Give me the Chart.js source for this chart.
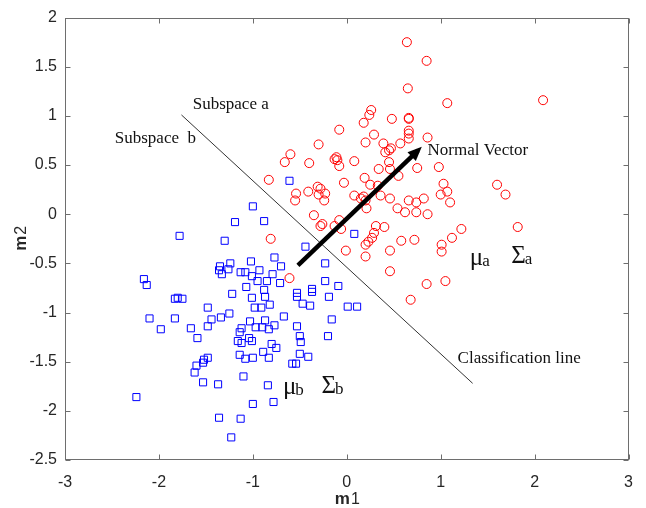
<!DOCTYPE html>
<html>
<head>
<meta charset="utf-8">
<title>LDA projection</title>
<script src="https://cdn.jsdelivr.net/npm/chart.js@4.4.1/dist/chart.umd.min.js"></script>
<style>
  html, body { margin: 0; padding: 0; background: #fff; }
  #wrap { width: 646px; height: 508px; }
</style>
</head>
<body>
<div id="wrap"><canvas id="lda" width="646" height="508"></canvas></div>
<script>
// ---------- data ----------
// class a (red circles)
const classAx = [0.64, 0.85, 0.65, 1.07, 2.09, 0.26, 0.24, 0.18, 0.48, 0.66,
  0.66, -0.08, 0.29, 0.66, 0.66, 0.66, 0.86, -0.30, 0.20, 0.39,
  0.57, 0.47, 0.45, 0.41, -0.60, -0.66, -0.40, -0.13, -0.11, -0.10,
  -0.08, 0.08, 0.45, 0.34, 0.46, 0.75, 0.98, -0.83, 0.55, -0.03,
  0.19, 0.25, 0.33, -0.54, -0.55, -0.41, -0.31, -0.28, -0.30, -0.23,
  -0.24, 0.08, 0.15, 0.18, 0.20, 0.36, 0.46, 0.21, 0.54, 0.62,
  0.66, 0.74, 0.74, 0.82, 0.86, 1.03, 1.00, 1.07, 1.10, 1.60,
  1.69, -0.35, -0.08, -0.06, -0.13, -0.26, -0.28, 0.31, 0.40, 0.29,
  0.27, 0.23, 0.20, 1.22, 1.82, 0.58, 0.72, 1.12, 1.01, 1.01,
  -0.01, 0.20, 0.46, -0.81, 0.46, -0.61, 0.85, 1.05, 0.68];
const classAy = [1.75, 1.56, 1.28, 1.13, 1.16, 1.06, 1.01, 0.93, 0.97, 0.98,
  0.97, 0.86, 0.81, 0.85, 0.82, 0.77, 0.78, 0.71, 0.73, 0.72,
  0.72, 0.67, 0.65, 0.63, 0.61, 0.53, 0.52, 0.56, 0.58, 0.55,
  0.49, 0.54, 0.53, 0.46, 0.46, 0.47, 0.48, 0.35, 0.39, 0.32,
  0.37, 0.30, 0.29, 0.21, 0.14, 0.23, 0.28, 0.26, 0.20, 0.21,
  0.14, 0.19, 0.16, 0.18, 0.14, 0.19, 0.16, 0.06, 0.06, 0.02,
  0.14, 0.12, 0.02, 0.16, 0.00, 0.31, 0.20, 0.23, 0.12, 0.30,
  0.20, -0.01, -0.06, -0.15, -0.12, -0.10, -0.12, -0.12, -0.13, -0.19,
  -0.24, -0.28, -0.31, -0.15, -0.13, -0.27, -0.26, -0.24, -0.31, -0.38,
  -0.37, -0.43, -0.37, -0.25, -0.58, -0.65, -0.71, -0.68, -0.87];

// class b (blue squares)
const classBx = [-0.61, -1.00, -1.19, -0.88, 0.08, -0.44, -0.77, -0.70, -1.02, -1.24,
  -1.26, -1.13, -1.08, -0.93, -0.79, -1.01, -0.95, -0.85, -0.71, -0.23,
  -0.23, -0.09, -0.19, -0.37, -0.37, -0.53, -0.53, -1.07, -0.88, -0.87,
  -1.01, -1.22, -0.82, -0.47, -0.39, -0.98, -0.91, 0.01, 0.11, -1.78,
  -1.30, -1.35, -1.33, -1.36, -2.16, -2.13, -1.83, -1.80, -1.75, -1.48,
  -2.10, -1.83, -1.44, -1.34, -1.25, -1.03, -0.87, -0.67, -0.16, -1.98,
  -1.66, -1.48, -1.12, -0.97, -0.90, -0.83, -0.77, -0.53, -1.59, -1.14,
  -1.16, -1.12, -1.04, -1.01, -0.50, -0.49, -0.20, -0.80, -0.75, -0.89,
  -1.48, -1.52, -1.53, -1.60, -1.62, -1.14, -1.08, -1.00, -0.83, -0.50,
  -0.41, -0.58, -0.54, -1.53, -1.37, -1.10, -0.84, -2.24, -1.00, -0.78,
  -1.36, -1.13, -1.23];
const classBy = [0.34, 0.08, -0.08, -0.07, -0.20, -0.33, -0.44, -0.53, -0.48, -0.50,
  -0.56, -0.59, -0.59, -0.57, -0.61, -0.63, -0.68, -0.68, -0.70, -0.50,
  -0.68, -0.73, -0.84, -0.76, -0.79, -0.80, -0.84, -0.74, -0.77, -0.84,
  -0.85, -0.81, -0.92, -0.91, -0.93, -0.95, -0.95, -0.94, -0.94, -0.22,
  -0.27, -0.53, -0.61, -0.57, -0.66, -0.72, -0.86, -0.85, -0.86, -0.95,
  -1.06, -1.06, -1.07, -1.05, -1.01, -1.09, -1.08, -1.04, -1.07, -1.17,
  -1.16, -1.14, -1.16, -1.15, -1.15, -1.17, -1.13, -1.14, -1.26, -1.20,
  -1.29, -1.31, -1.26, -1.29, -1.24, -1.30, -1.24, -1.32, -1.36, -1.40,
  -1.46, -1.48, -1.51, -1.54, -1.61, -1.43, -1.47, -1.46, -1.46, -1.42,
  -1.45, -1.52, -1.52, -1.71, -1.73, -1.65, -1.74, -1.86, -1.93, -1.91,
  -2.07, -2.08, -2.27];

// decision boundary and projection direction
const boundaryX = [-1.76, 1.34];
const boundaryY = [1.01, -1.72];
const arrowX = [-0.52, 0.76];
const arrowY = [-0.52, 0.65];

// axis ticks
const xTickValues = [-3, -2, -1, 0, 1, 2, 3];
const yTickValues = [-2.5, -2, -1.5, -1, -0.5, 0, 0.5, 1, 1.5, 2];

// annotations (data units)
const noteText = ['Subspace a', 'Subspace  b', 'Normal Vector', 'Classification line'];
const noteX = [-1.64, -2.47, 0.86, 1.18];
const noteY = [1.12, 0.77, 0.65, -1.47];

const symBase = ['\u03bc', '\u03a3', '\u03bc', '\u03a3'];
const symSub = ['a', 'a', 'b', 'b'];
const symX = [1.31, 1.75, -0.68, -0.27];
const symY = [-0.52, -0.50, -1.83, -1.82];

const toPoints = (xs, ys) => xs.map((v, i) => ({ x: v, y: ys[i] }));

// ---------- plugin: frame, inward ticks, axis titles, notes, arrow head ----------
const decorations = {
  id: 'decorations',
  afterDatasetsDraw(chart) {
    const { ctx, chartArea: a, scales: { x, y } } = chart;
    ctx.save();

    // box
    const L = Math.round(a.left) + 0.5, R = Math.round(a.right) - 0.5;
    const T = Math.round(a.top) + 0.5, B = Math.round(a.bottom) - 0.5;
    ctx.strokeStyle = '#6e6e6e';
    ctx.lineWidth = 1;
    ctx.strokeRect(L, T, R - L, B - T);

    // ticks pointing inward on all four sides
    ctx.beginPath();
    xTickValues.forEach(v => {
      const px = Math.round(x.getPixelForValue(v)) + 0.5;
      ctx.moveTo(px, B); ctx.lineTo(px, B - 5);
      ctx.moveTo(px, T); ctx.lineTo(px, T + 5);
    });
    yTickValues.forEach(v => {
      const py = Math.round(y.getPixelForValue(v)) + 0.5;
      ctx.moveTo(L, py); ctx.lineTo(L + 5, py);
      ctx.moveTo(R, py); ctx.lineTo(R - 5, py);
    });
    ctx.stroke();

    // arrow head
    const sx = x.getPixelForValue(arrowX[0]), sy = y.getPixelForValue(arrowY[0]);
    const ex = x.getPixelForValue(arrowX[1]), ey = y.getPixelForValue(arrowY[1]);
    const ang = Math.atan2(ey - sy, ex - sx);
    const c = Math.cos(ang), s = Math.sin(ang);
    const tipX = ex + 5 * c, tipY = ey + 5 * s;
    const hl = 14, hw = 6;
    ctx.fillStyle = '#000';
    ctx.beginPath();
    ctx.moveTo(tipX, tipY);
    ctx.lineTo(tipX - hl * c - hw * s, tipY - hl * s + hw * c);
    ctx.lineTo(tipX - hl * c + hw * s, tipY - hl * s - hw * c);
    ctx.closePath();
    ctx.fill();

    // text notes
    ctx.fillStyle = '#111';
    ctx.font = '17px "Liberation Serif", "Times New Roman", serif';
    ctx.textAlign = 'left';
    ctx.textBaseline = 'middle';
    noteText.forEach((t, i) => {
      ctx.fillText(t, x.getPixelForValue(noteX[i]), y.getPixelForValue(noteY[i]));
    });

    // mean / covariance symbols
    ctx.textBaseline = 'alphabetic';
    symBase.forEach((b, i) => {
      const px = x.getPixelForValue(symX[i]), py = y.getPixelForValue(symY[i]);
      ctx.font = '25px "Liberation Serif", "Times New Roman", serif';
      ctx.fillText(b, px, py);
      const w = ctx.measureText(b).width;
      ctx.font = '17px "Liberation Serif", "Times New Roman", serif';
      ctx.fillText(symSub[i], px + w - 1, py + 1);
    });

    // axis titles: bold m, regular index
    ctx.fillStyle = '#262626';
    const title = (cx, cy, idx) => {
      ctx.font = 'bold 17px "Liberation Sans", Arial, sans-serif';
      const wm = ctx.measureText('m').width;
      ctx.font = '16px "Liberation Sans", Arial, sans-serif';
      const wi = ctx.measureText(idx).width;
      const x0 = cx - (wm + wi) / 2;
      ctx.font = 'bold 17px "Liberation Sans", Arial, sans-serif';
      ctx.fillText('m', x0, cy);
      ctx.font = '16px "Liberation Sans", Arial, sans-serif';
      ctx.fillText(idx, x0 + wm + 1, cy);
    };
    title((a.left + a.right) / 2, a.bottom + 44, '1');
    ctx.translate(26, (a.top + a.bottom) / 2);
    ctx.rotate(-Math.PI / 2);
    title(0, 0, '2');

    ctx.restore();
  }
};

// ---------- chart ----------
const tickFont = { family: '"Liberation Sans", Arial, sans-serif', size: 16 };

new Chart(document.getElementById('lda'), {
  type: 'scatter',
  data: {
    datasets: [
      {
        label: 'normal vector',
        data: toPoints(arrowX, arrowY),
        showLine: true,
        borderColor: '#000',
        borderWidth: 4.5,
        borderCapStyle: 'butt',
        pointRadius: 0,
        order: 0
      },
      {
        label: 'class a',
        data: toPoints(classAx, classAy),
        pointStyle: 'circle',
        pointRadius: 4.5,
        pointBorderWidth: 1,
        pointBorderColor: '#ff0000',
        pointBackgroundColor: 'rgba(0,0,0,0)',
        order: 1
      },
      {
        label: 'class b',
        data: toPoints(classBx, classBy),
        pointStyle: 'rect',
        pointRadius: 5,
        pointBorderWidth: 1,
        pointBorderColor: '#0000ff',
        pointBackgroundColor: 'rgba(0,0,0,0)',
        order: 2
      },
      {
        label: 'classification line',
        data: toPoints(boundaryX, boundaryY),
        showLine: true,
        borderColor: '#333',
        borderWidth: 1,
        pointRadius: 0,
        order: 3
      }
    ]
  },
  options: {
    responsive: false,
    animation: false,
    events: [],
    layout: { padding: { top: 14, right: 15, left: 0, bottom: 0 } },
    plugins: { legend: { display: false }, tooltip: { enabled: false } },
    scales: {
      x: {
        type: 'linear',
        min: -3, max: 3,
        afterBuildTicks: s => { s.ticks = xTickValues.map(v => ({ value: v })); },
        afterFit: s => { s.height = 48; },
        ticks: { font: tickFont, color: '#262626', padding: 13, maxRotation: 0, callback: v => String(v) },
        grid: { display: false, drawTicks: false },
        border: { display: false }
      },
      y: {
        type: 'linear',
        min: -2.5, max: 2,
        afterBuildTicks: s => { s.ticks = yTickValues.map(v => ({ value: v })); },
        afterFit: s => { s.width = 65; },
        ticks: { font: tickFont, color: '#262626', padding: 8, callback: v => String(v) },
        grid: { display: false, drawTicks: false },
        border: { display: false }
      }
    }
  },
  plugins: [decorations]
});
</script>
</body>
</html>
